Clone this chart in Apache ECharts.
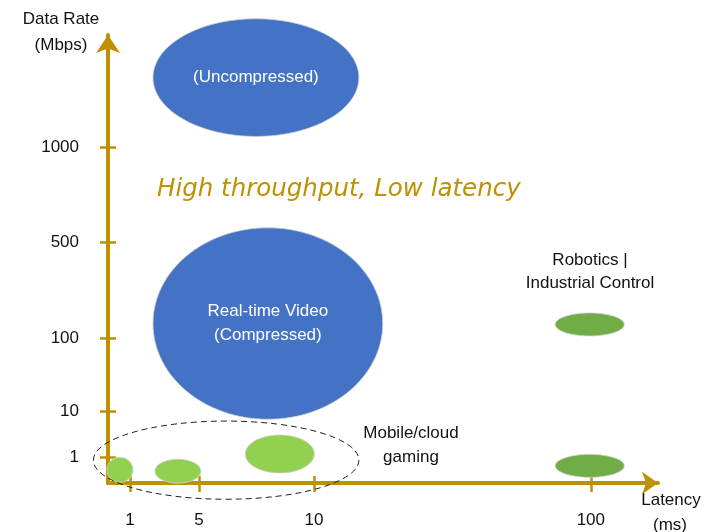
<!DOCTYPE html>
<html>
<head>
<meta charset="utf-8">
<script src="https://cdn.jsdelivr.net/npm/echarts@6/dist/echarts.min.js"></script>
<style>
html,body{margin:0;padding:0;background:#fff;}
#chart{width:706px;height:532px;}
</style>
</head>
<body>
<div id="chart"></div>
<script>
// Schematic axis positions (axis scale in arbitrary schematic units)
const xTickPos = [4.06, 16.8, 38.0, 89.1];
const xTickLabels = ['1', '5', '10', '100'];
const yTickPos = [5.9, 16.4, 33.0, 54.9, 76.5];
const yTickLabels = ['1', '10', '100', '500', '1000'];

// Application regions: centre (latency pos, rate pos) and spread
const regionNames = ['(Uncompressed)', 'Real-time Video\n(Compressed)', '', '', '', '', ''];
const regionGroup = ['video', 'video', 'gaming', 'gaming', 'gaming', 'robotics', 'robotics'];
const regionLatency = [27.3, 29.5, 2.2, 12.9, 31.7, 88.9, 88.9];
const regionRate = [92.3, 36.3, 3.0, 2.7, 6.6, 36.1, 3.9];
const regionLatencySpread = [19.0, 21.2, 2.4, 4.24, 6.37, 6.37, 6.37];
const regionRateSpread = [13.4, 21.8, 2.85, 2.73, 4.33, 2.62, 2.62];

// Dashed cluster around gaming
const clusterLatency = [21.8];
const clusterRate = [5.2];
const clusterLatencySpread = [24.5];
const clusterRateSpread = [8.9];

const GOLD = '#BF9000';
const FONT = 'Liberation Sans';
const groupColor = { video: '#4472C4', gaming: '#92D050', robotics: '#70AD47' };

const regionData = regionLatency.map((v, i) => [v, regionRate[i], regionLatencySpread[i], regionRateSpread[i]]);
const clusterData = clusterLatency.map((v, i) => [v, clusterRate[i], clusterLatencySpread[i], clusterRateSpread[i]]);

function fmtX(v) { const i = xTickPos.indexOf(v); return i >= 0 ? xTickLabels[i] : ''; }
function fmtY(v) { const i = yTickPos.indexOf(v); return i >= 0 ? yTickLabels[i] : ''; }

const chart = echarts.init(document.getElementById('chart'), null, { renderer: 'canvas' });

const baseX = { type: 'value', min: 0, max: 101.5, splitLine: { show: false }, position: 'bottom', offset: 0 };
const baseY = { type: 'value', min: 0, max: 102, splitLine: { show: false }, position: 'left', offset: 0 };

function txt(text, x, y, extra) {
  return {
    type: 'text', x: x, y: y, silent: true,
    style: Object.assign({ text: text, fill: '#111', font: '17px "' + FONT + '"', align: 'center', verticalAlign: 'middle' }, extra || {})
  };
}

chart.setOption({
  animation: false,
  backgroundColor: '#fff',
  grid: { left: 108, right: 48, top: 35, bottom: 49, containLabel: false },
  xAxis: [
    Object.assign({}, baseX, {
      axisLine: { show: true, lineStyle: { color: GOLD, width: 4 }, symbol: ['none', 'arrow'], symbolSize: [17, 16] },
      axisTick: { show: true, inside: false, length: 9, lineStyle: { color: GOLD, width: 2.5 }, customValues: xTickPos },
      axisLabel: { show: true, margin: 29, color: '#111', fontSize: 17, fontFamily: FONT, formatter: fmtX, customValues: xTickPos }
    }),
    Object.assign({}, baseX, {
      axisLine: { show: false },
      axisTick: { show: true, inside: true, length: 7, lineStyle: { color: GOLD, width: 2.5 }, customValues: xTickPos },
      axisLabel: { show: false }
    })
  ],
  yAxis: [
    Object.assign({}, baseY, {
      axisLine: { show: true, lineStyle: { color: GOLD, width: 4 }, symbol: ['none', 'arrow'], symbolSize: [18, 18] },
      axisTick: { show: true, inside: false, length: 8, lineStyle: { color: GOLD, width: 2.5 }, customValues: yTickPos },
      axisLabel: { show: true, margin: 29, color: '#111', fontSize: 17, fontFamily: FONT, formatter: fmtY, customValues: yTickPos }
    }),
    Object.assign({}, baseY, {
      axisLine: { show: false },
      axisTick: { show: true, inside: true, length: 8, lineStyle: { color: GOLD, width: 2.5 }, customValues: yTickPos },
      axisLabel: { show: false }
    })
  ],
  series: [
    {
      type: 'custom', xAxisIndex: 0, yAxisIndex: 0, clip: false, silent: true, z: 3,
      data: regionData,
      encode: { x: 0, y: 1 },
      renderItem: function (params, api) {
        const c = api.coord([api.value(0), api.value(1)]);
        const s = api.size([api.value(2), api.value(3)]);
        const i = params.dataIndex;
        return {
          type: 'ellipse',
          shape: { cx: c[0], cy: c[1], rx: s[0], ry: s[1] },
          style: { fill: groupColor[regionGroup[i]], stroke: 'rgba(210,210,210,0.8)', lineWidth: 1 },
          textContent: {
            style: { text: regionNames[i], fill: '#fff', fontSize: 17, fontFamily: FONT, lineHeight: 24, align: 'center', verticalAlign: 'middle' }
          },
          textConfig: { position: 'inside' }
        };
      }
    },
    {
      type: 'custom', xAxisIndex: 0, yAxisIndex: 0, clip: false, silent: true, z: 4,
      data: clusterData,
      encode: { x: 0, y: 1 },
      renderItem: function (params, api) {
        const c = api.coord([api.value(0), api.value(1)]);
        const s = api.size([api.value(2), api.value(3)]);
        return {
          type: 'ellipse',
          shape: { cx: c[0], cy: c[1], rx: s[0], ry: s[1] },
          style: { fill: 'none', stroke: '#222', lineWidth: 1, lineDash: [6, 4] }
        };
      }
    }
  ],
  graphic: [
    txt('Data Rate', 61, 19),
    txt('(Mbps)', 61, 45),
    txt('Latency', 671, 500),
    txt('(ms)', 670, 525),
    txt('Mobile/cloud', 411, 433),
    txt('gaming', 411, 457),
    txt('Robotics |', 590, 260),
    txt('Industrial Control', 590, 283),
    txt('High throughput, Low latency', 157, 190, { align: 'left', fill: GOLD, font: 'italic 24.5px "DejaVu Sans"' })
  ]
});
</script>
</body>
</html>
